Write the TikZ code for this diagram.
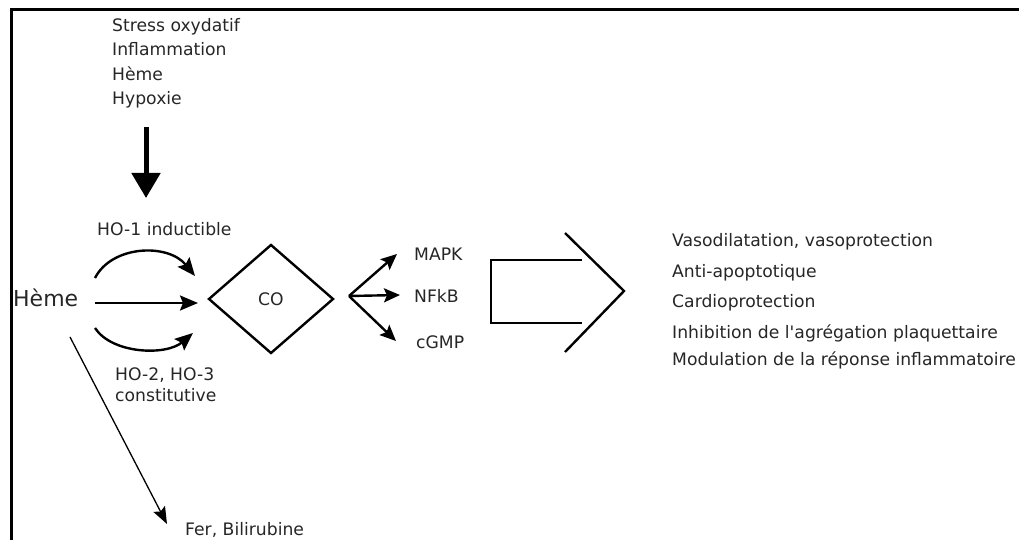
\documentclass[tikz,border=0pt]{standalone}
\usepackage{fontspec}
\setmainfont{DejaVu Sans}
\usetikzlibrary{arrows.meta,shapes.geometric}
\begin{document}
\begin{tikzpicture}[x=1pt,y=-1pt,
  txt/.style={inner sep=0pt, anchor=base west, text=black!85, font=\fontsize{17.2}{20}\selectfont},
  ln/.style={line width=2.4pt, line join=miter},
  arr/.style={ln, -{Stealth[length=18pt,width=15pt,inset=3pt]}},
  farr/.style={ln, -{Stealth[length=16pt,width=14pt,inset=3pt]}},
  thinarr/.style={line width=1.3pt, -{Stealth[length=17pt,width=13pt,inset=3pt]}},
  bigarr/.style={line width=5pt, -{Triangle[length=25pt,width=28pt]}},
  frame/.style={line width=3pt}]
\useasboundingbox (0,0) rectangle (1019,540);
% frame (top and left edges)
\draw[frame] (11.5,541) -- (11.5,10) -- (1020,10);

% stimuli
\node[txt] (s1) at (112,31.5) {Stress oxydatif};
\node[txt] (s2) at (112,55.8) {Inflammation};
\node[txt] (s3) at (112,80.1) {Hème};
\node[txt] (s4) at (112,104.4) {Hypoxie};
\coordinate (stimA) at (146,127);
\coordinate (stimB) at (146,198);
\draw[bigarr] (stimA) -- (stimB);

% enzymes
\node[txt] (ho1) at (97,235) {HO-1 inductible};
\node[txt] (ho2) at (115,380) {HO-2, HO-3};
\node[txt] (hoc) at (115,401) {constitutive};

% heme
\node[txt, font=\fontsize{22}{24}\selectfont] (heme) at (13,306) {Hème};

% CO diamond
\node[diamond, draw, line width=2.4pt, minimum width=125pt, minimum height=109pt, inner sep=0pt,
      font=\fontsize{17.2}{20}\selectfont, text=black!85] (co) at (271,299) {CO};

\coordinate (t1) at (95,278);
\coordinate (t2) at (195,276);
\coordinate (m1) at (95,303);
\coordinate (m2) at (198,303);
\coordinate (b1) at (95,328);
\coordinate (b2) at (193,333);
\draw[arr] (t1) .. controls (112,245) and (168,243) .. (t2);
\draw[arr] (m1) -- (m2);
\draw[arr] (b1) .. controls (112,354) and (166,356) .. (b2);

% degradation
\coordinate (d1) at (70,337);
\node[txt] (fer) at (185,535.5) {Fer, Bilirubine};
\coordinate (d2) at (167,524);
\draw[thinarr] (d1) -- (d2);

% signalling
\coordinate (fork) at (349,296);
\node[txt] (mapk) at (414,260) {MAPK};
\node[txt] (nfkb) at (414,302) {NFkB};
\node[txt] (cgmp) at (416,348) {cGMP};
\coordinate (e1) at (397,254);
\coordinate (e2) at (400,295);
\coordinate (e3) at (396,341);
\draw[farr] (fork) -- (e1);
\draw[farr] (fork) -- (e2);
\draw[farr] (fork) -- (e3);

% big open arrow
\draw[ln] (582,260) -- (491,260) -- (491,323) -- (582,323);
\draw[ln] (565,233) -- (624,291) -- (565,352);

% effects
\node[txt] (ef1) at (672,246) {Vasodilatation, vasoprotection};
\node[txt] (ef2) at (672,277) {Anti-apoptotique};
\node[txt] (ef3) at (672,307) {Cardioprotection};
\node[txt] (ef4) at (672,338) {Inhibition de l\textquotesingle agrégation plaquettaire};
\node[txt] (ef5) at (672,365) {Modulation de la réponse inflammatoire};
\end{tikzpicture}
\end{document}
